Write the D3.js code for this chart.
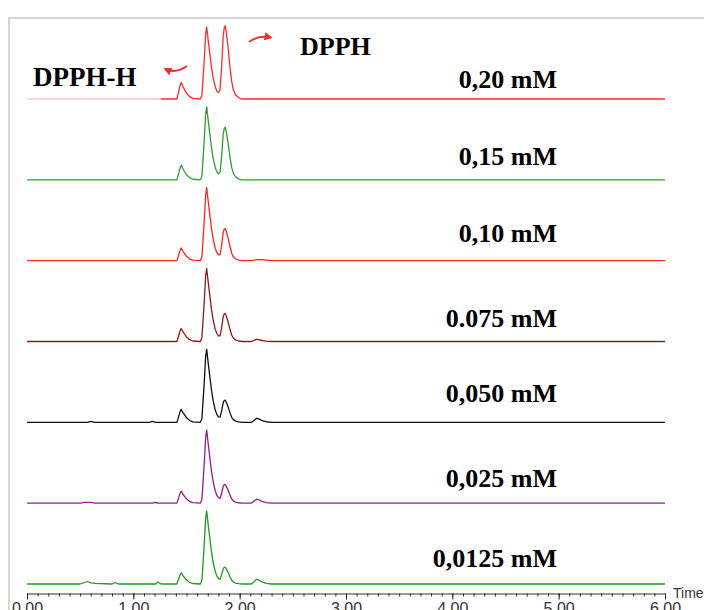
<!DOCTYPE html>
<html>
<head>
<meta charset="utf-8">
<script src="https://cdn.jsdelivr.net/npm/d3@7"></script>
<style>
  body { margin: 0; background: #fff; }
  svg { display: block; }
</style>
</head>
<body>
<div id="chart"></div>
<script>
// Retention times (min), shared by every trace
const times = [0.00, 0.50, 0.54, 0.57, 0.60, 0.64, 0.80, 0.83, 0.86, 1.15, 1.18, 1.21, 1.23, 1.26,
  1.41, 1.44, 1.45, 1.47, 1.50, 1.53, 1.56, 1.63,
  1.645, 1.665, 1.68, 1.69, 1.705, 1.72, 1.735, 1.75,
  1.77, 1.785, 1.80, 1.815, 1.83, 1.845, 1.855, 1.865, 1.88, 1.895, 1.91, 1.925, 1.94, 1.96, 1.99, 2.02,
  2.11, 2.14, 2.16, 2.18, 2.21, 2.25, 2.30, 2.40, 6.00]

const concLabels = ['0,20 mM', '0,15 mM', '0,10 mM', '0.075 mM', '0,050 mM', '0,025 mM', '0,0125 mM']

// detector signal for each concentration
const s020 = [0, 0, 0, 0, 0, 0, 0, 0, 0, 0, 0, 0, 0, 0,
  0, 13.5, 16.5, 11.6, 5.8, 2.3, 0.7, 0,
  3.6, 36, 64.8, 72, 57.6, 44.6, 31.7, 21.6,
  12.2, 7.9, 6.4, 8.6, 31.3, 63.0, 71.2, 73.1, 61.9, 47.3, 30.6, 17.3, 9.4, 4.3, 1.4, 0,
  0, 0, 0, 0, 0, 0, 0, 0, 0]
const s015 = [0, 0, 0, 0, 0, 0, 0, 0, 0, 0, 0, 0, 0, 0,
  0, 12.1, 14.7, 10.3, 5.1, 2.1, 0.6, 0,
  3.7, 36.5, 65.7, 73, 58.4, 45.3, 32.1, 21.9,
  12.4, 8.0, 6.1, 7.3, 23.2, 45.6, 51.5, 52.6, 44.5, 34.0, 22.0, 12.4, 6.7, 3.1, 1.0, 0,
  0, 0, 0, 0, 0, 0, 0, 0, 0]
const s010 = [0, 0, 0, 0, 0, 0, 0, 0, 0, 0, 0, 0, 0, 0,
  0, 10.4, 12.7, 8.9, 4.4, 1.8, 0.5, 0,
  3.7, 36.5, 65.7, 73, 58.4, 45.3, 32.1, 21.9,
  12.4, 8.0, 5.7, 5.9, 15.0, 28.2, 31.6, 32.1, 27.1, 20.7, 13.4, 7.4, 4.0, 1.9, 0.6, 0,
  0, 0.6, 1.0, 1.1, 1.0, 0.6, 0, 0, 0]
const s0075 = [0, 0, 0, 0, 0, 0, 0, 0, 0, 0, 0, 0, 0, 0,
  0, 10.7, 13, 9.1, 4.6, 1.8, 0.5, 0,
  3.7, 36.5, 65.7, 73, 58.4, 45.3, 32.1, 21.9,
  12.4, 8.0, 5.6, 5.6, 13.4, 24.8, 27.7, 28.1, 23.7, 18.1, 11.7, 6.5, 3.5, 1.6, 0.5, 0,
  0, 1.3, 2.2, 1.9, 1.0, 0.3, 0, 0, 0]
const s0050 = [0, 0, 0, 0, 0.9, 0, 0, 0, 0, 0, 1.0, 0, 0, 0,
  0, 10.7, 13, 9.1, 4.6, 1.8, 0.5, 0,
  3.7, 36.5, 65.7, 73, 58.4, 45.3, 32.1, 21.9,
  12.4, 8.0, 5.5, 5.2, 11.0, 19.7, 21.9, 22.1, 18.6, 14.2, 9.2, 5.0, 2.7, 1.3, 0.4, 0,
  0, 2.4, 4, 3.4, 1.8, 0.6, 0, 0, 0]
const s0025 = [0, 0, 0.8, 0.8, 0.8, 0, 0, 0, 0, 0, 0, 0.8, 0, 0,
  0, 9.8, 12, 8.4, 4.2, 1.7, 0.5, 0,
  3.7, 36.5, 65.7, 73, 58.4, 45.3, 32.1, 21.9,
  12.4, 8.0, 5.5, 4.9, 9.6, 16.8, 18.6, 18.7, 15.7, 11.9, 7.8, 4.2, 2.3, 1.1, 0.4, 0,
  0, 2.4, 4, 3.4, 1.8, 0.6, 0, 0, 0]
const s00125 = [0, 0, 1.5, 2.5, 1.2, 0.6, 0, 1.5, 0, 0, 0, 0, 2.0, 0,
  0, 9.3, 11.3, 7.9, 4.0, 1.6, 0.5, 0,
  3.7, 36.5, 65.7, 73, 58.4, 45.3, 32.1, 21.9,
  12.4, 8.0, 5.4, 4.8, 8.9, 15.1, 16.7, 16.8, 14.0, 10.7, 7.0, 3.8, 2.0, 0.9, 0.3, 0,
  0, 2.8, 4.7, 4.0, 2.1, 0.7, 0, 0, 0]

const traces = [s020, s015, s010, s0075, s0050, s0025, s00125]

const majorTicks = [0, 1, 2, 3, 4, 5, 6]

// Canvas
const width = 704,
  height = 610

const colors = ['#ff2b2b', '#2f9e2f', '#ff2424', '#8e1c1c', '#111111', '#8e1f8e', '#1f9a1f']
const labelLift = [11, 15, 18.5, 14.5, 20.5, 16, 17.5]

const svg = d3.select('#chart')
  .append('svg')
  .attr('width', width)
  .attr('height', height)

// frame
svg.append('line')
  .attr('x1', 8).attr('x2', width).attr('y1', 18).attr('y2', 18)
  .attr('stroke', '#d6d6d6').attr('stroke-width', 2)
svg.append('line')
  .attr('x1', 9).attr('x2', 9).attr('y1', 17).attr('y2', height)
  .attr('stroke', '#d6d6d6').attr('stroke-width', 2)

const xScale = d3.scaleLinear()
  .domain([0, 6])
  .range([27, 665])

// baseline of each trace
const baseScale = d3.scaleLinear()
  .domain([0, traces.length - 1])
  .range([99, 584])

const axisY = 593.5

// minor ticks
svg.append('g')
  .attr('transform', `translate(0, ${axisY})`)
  .call(d3.axisBottom(xScale).tickValues(d3.range(0, 60.5, 1).map(d => d / 10)).tickSize(3).tickFormat(''))
  .call(g => g.select('.domain').remove())
  .call(g => g.selectAll('line').attr('stroke', '#222'))

const xAxisGroup = svg.append('g')
  .attr('transform', `translate(0, ${axisY})`)
  .call(d3.axisBottom(xScale).tickValues(majorTicks).tickFormat(d3.format('.2f')).tickSize(6).tickSizeOuter(0))
xAxisGroup.select('.domain').attr('stroke', '#333')
xAxisGroup.selectAll('line').attr('stroke', '#222')
xAxisGroup.selectAll('text')
  .attr('font-family', 'Liberation Sans, Arial, sans-serif')
  .attr('font-size', 16)
  .attr('fill', '#333')

svg.append('text')
  .attr('x', 673)
  .attr('y', 598)
  .attr('font-family', 'Liberation Sans, Arial, sans-serif')
  .attr('font-size', 14)
  .attr('fill', '#333')
  .text('Time')

// traces
traces.forEach((vals, i) => {
  const b = baseScale(i)
  const yScale = d3.scaleLinear().domain([0, 80]).range([b, b - 80])
  const line = d3.line()
    .x((d, j) => xScale(times[j]))
    .y(d => yScale(d))

  svg.append('path')
    .datum(vals)
    .attr('d', line)
    .attr('fill', 'none')
    .attr('stroke', colors[i])
    .attr('stroke-width', 1.3)
    .attr('stroke-linejoin', 'round')

  svg.append('text')
    .attr('x', 557)
    .attr('y', b - labelLift[i])
    .attr('text-anchor', 'end')
    .attr('font-family', 'Liberation Serif, Times New Roman, serif')
    .attr('font-weight', 'bold')
    .attr('font-size', 26)
    .attr('fill', '#000')
    .text(concLabels[i])
})

// DPPH-H label sits on a pasted white box that fades the start of the top trace
svg.append('rect')
  .attr('x', 20).attr('y', 58).attr('width', 141).attr('height', 43)
  .attr('fill', '#fff').attr('opacity', 0.72)

svg.append('text')
  .attr('x', 33).attr('y', 86)
  .attr('font-family', 'Liberation Serif, Times New Roman, serif')
  .attr('font-weight', 'bold')
  .attr('font-size', 27)
  .text('DPPH-H')

svg.append('text')
  .attr('x', 300).attr('y', 55)
  .attr('font-family', 'Liberation Serif, Times New Roman, serif')
  .attr('font-weight', 'bold')
  .attr('font-size', 26)
  .text('DPPH')

// arrows
svg.append('defs').append('marker')
  .attr('id', 'head')
  .attr('viewBox', '0 0 10 10')
  .attr('refX', 8).attr('refY', 5)
  .attr('markerWidth', 4).attr('markerHeight', 4)
  .attr('orient', 'auto')
  .append('path')
  .attr('d', 'M0,0 L10,5 L0,10 z')
  .attr('fill', '#e8312a')

svg.append('path')
  .attr('d', 'M187,66 Q176,74 165,69')
  .attr('fill', 'none')
  .attr('stroke', '#e8312a')
  .attr('stroke-width', 2)
  .attr('marker-end', 'url(#head)')

svg.append('path')
  .attr('d', 'M249,42 Q258,35 271,37.5')
  .attr('fill', 'none')
  .attr('stroke', '#e8312a')
  .attr('stroke-width', 2)
  .attr('marker-end', 'url(#head)')
</script>
</body>
</html>
